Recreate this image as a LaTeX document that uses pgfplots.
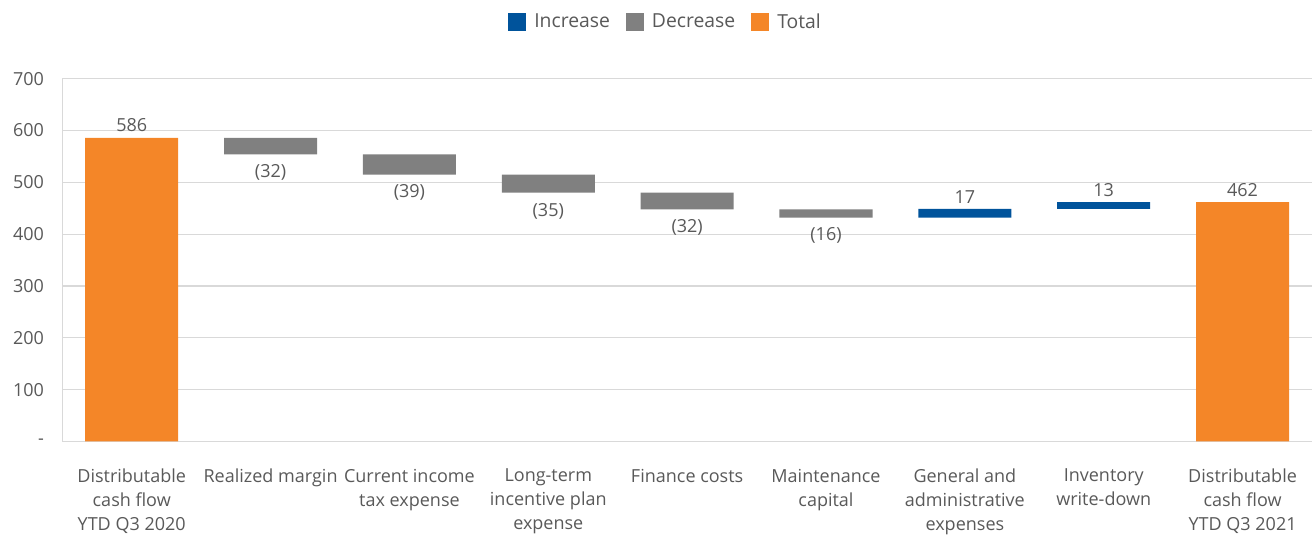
\documentclass[border=0pt]{standalone}
\usepackage{fontspec}
\setmainfont{Open Sans}
\usepackage{pgfplots}
\pgfplotsset{compat=1.18}

\definecolor{incblue}{RGB}{0,83,155}
\definecolor{decgray}{RGB}{128,128,128}
\definecolor{totorange}{RGB}{244,134,40}
\definecolor{textgray}{RGB}{89,89,89}
\definecolor{gridgray}{RGB}{217,217,217}

\tikzset{lbl/.style={text=textgray, font=\fontsize{13.5}{16}\selectfont}}

\begin{document}
\begin{tikzpicture}
\begin{axis}[
  width=937pt, height=272pt, scale only axis,
  ybar stacked, bar width=0.67,
  xmin=-0.5, xmax=8.5, ymin=0, ymax=700,
  xtick={0,...,8},
  xticklabels={
    {Distributable\\cash flow\\YTD Q3 2020},
    {Realized margin},
    {Current income\\tax expense},
    {Long-term\\incentive plan\\expense},
    {Finance costs},
    {Maintenance\\capital},
    {General and\\administrative\\expenses},
    {Inventory\\write-down},
    {Distributable\\cash flow\\YTD Q3 2021}},
  xticklabel style={align=center, text=textgray, anchor=north, yshift=-17pt,
    font=\fontsize{13.5}{18}\selectfont},
  ytick={0,100,...,700},
  yticklabels={-,100,200,300,400,500,600,700},
  yticklabel style={text=textgray, font=\fontsize{13.5}{16}\selectfont,
    anchor=east, inner sep=0pt, xshift=-13.5pt, text width=33pt, align=right},
  ymajorgrids, grid style={gridgray, line width=0.8pt},
  axis x line*=bottom, axis y line*=left,
  axis line style={gridgray, line width=0.8pt, -},
  major tick length=0pt,
  legend columns=3,
  legend style={at={(0.483,1)}, anchor=center, yshift=42.5pt, draw=none,
    font=\fontsize{14.5}{17}\selectfont, text=textgray,
    /tikz/every odd column/.append style={column sep=4pt},
    /tikz/every even column/.append style={column sep=10pt}},
  legend image code/.code={\fill[#1] (0pt,-6.6pt) rectangle (13.5pt,6.6pt);},
]
% invisible base
\addplot[fill=none, draw=none, forget plot] coordinates {
  (0,0) (1,554) (2,515) (3,480) (4,448) (5,432) (6,432) (7,449) (8,0)};
\addplot[fill=incblue, draw=none] coordinates {
  (0,0) (1,0) (2,0) (3,0) (4,0) (5,0) (6,17) (7,13) (8,0)};
\addlegendentry{Increase}
\addplot[fill=decgray, draw=none] coordinates {
  (0,0) (1,32) (2,39) (3,35) (4,32) (5,16) (6,0) (7,0) (8,0)};
\addlegendentry{Decrease}
\addplot[fill=totorange, draw=none] coordinates {
  (0,586) (1,0) (2,0) (3,0) (4,0) (5,0) (6,0) (7,0) (8,462)};
\addlegendentry{Total}

\node[lbl, anchor=south, inner sep=4pt] at (axis cs:0,586) {586};
\node[lbl, anchor=north, inner sep=7.5pt] at (axis cs:1,554) {(32)};
\node[lbl, anchor=north, inner sep=7.5pt] at (axis cs:2,515) {(39)};
\node[lbl, anchor=north, inner sep=7.5pt] at (axis cs:3,480) {(35)};
\node[lbl, anchor=north, inner sep=7.5pt] at (axis cs:4,448) {(32)};
\node[lbl, anchor=north, inner sep=7.5pt] at (axis cs:5,432) {(16)};
\node[lbl, anchor=south, inner sep=4pt] at (axis cs:6,449) {17};
\node[lbl, anchor=south, inner sep=4pt] at (axis cs:7,462) {13};
\node[lbl, anchor=south, inner sep=4pt] at (axis cs:8,462) {462};
\end{axis}
% page margins as in the reference
\path (current axis.north west) ++(0,59pt);
\path (current axis.north east) ++(1.5pt,0);
\end{tikzpicture}
\end{document}
